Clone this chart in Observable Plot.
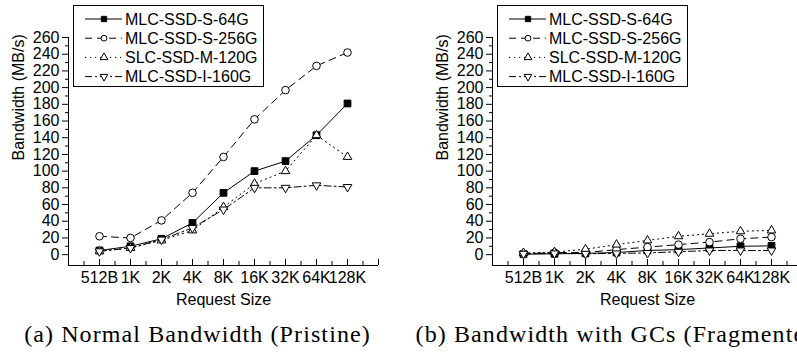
<!DOCTYPE html>
<html><head><meta charset="utf-8">
<script src="https://cdn.jsdelivr.net/npm/d3@7"></script>
<script src="https://cdn.jsdelivr.net/npm/@observablehq/plot@0.6"></script>
<style>
html,body{margin:0;padding:0;background:#fff;}
#wrap{position:relative;width:797px;height:354px;overflow:hidden;background:#fff;}
.panel{position:absolute;top:0;width:424px;height:354px;}
.panel svg{display:block;}
.caption{position:absolute;left:-30px;width:455px;top:320px;text-align:center;white-space:nowrap;font-family:"Liberation Serif",serif;font-size:24px;letter-spacing:1.1px;color:#000;line-height:28px;}
.legend{position:absolute;left:73px;top:5px;}
</style></head><body><div id="wrap"></div>
<script>
const sizes = ["512B","1K","2K","4K","8K","16K","32K","64K","128K"];
const seriesNames = ["MLC-SSD-S-64G","MLC-SSD-S-256G","SLC-SSD-M-120G","MLC-SSD-I-160G"];

// (a) Normal Bandwidth (Pristine)
const pristine64  = [5, 10, 19, 38, 74, 100, 112, 143, 181];
const pristine256 = [22, 20, 41, 74, 117, 162, 197, 226, 242];
const pristine120 = [4, 8, 17, 29, 57, 85, 100, 143, 117];
const pristine160 = [4, 8, 18, 32, 54, 80, 80, 83, 81];

// (b) Bandwidth with GCs (Fragmented)
const frag64  = [0.5, 1, 1.5, 2.5, 5, 6, 8, 10, 10.5];
const frag256 = [1, 2.5, 2.5, 6, 9, 12, 15, 19, 21];
const frag120 = [2, 3, 6.5, 12, 17, 22, 25, 28, 29];
const frag160 = [1, 1.5, 1, 1.5, 2, 3.5, 5, 5, 5];

const yTicks = d3.range(0, 261, 20);
const yMinorTicks = d3.range(10, 251, 20);
const captions = ["(a) Normal Bandwidth (Pristine)", "(b) Bandwidth with GCs (Fragmented)"];

const X_MIN = 0, X_MAX = 10, Y_MIN = -13, Y_MAX = 260;
const SANS = "'Liberation Sans', Arial, sans-serif";

const triangleDown = {
  draw(ctx, size) {
    const y = Math.sqrt(size / (Math.sqrt(3) * 3));
    ctx.moveTo(0, 2 * y);
    ctx.lineTo(-Math.sqrt(3) * y, -y);
    ctx.lineTo(Math.sqrt(3) * y, -y);
    ctx.closePath();
  }
};
const styles = [
  {dash: null, symbol: "square", fill: "black", r: 3.8, legendSym: d3.symbolSquare, legendSize: 28},
  {dash: "7,5", symbol: "circle", fill: "white", r: 3.8, legendSym: d3.symbolCircle, legendSize: 26},
  {dash: "1.2,3.8", symbol: "triangle", fill: "white", r: 3.2, legendSym: d3.symbolTriangle, legendSize: 26},
  {dash: "7,3,2,3", symbol: triangleDown, fill: "white", r: 3.2, legendSym: triangleDown, legendSize: 26}
];

function rowsFor(values) {
  return values.map((v, i) => ({size: sizes[i], x: i + 1, value: v}));
}

function makePanel(seriesValues, leftPx, caption) {
  const div = document.createElement("div");
  div.className = "panel";
  div.style.left = leftPx + "px";
  const marks = [
    Plot.ruleX([X_MIN], {stroke: "black", strokeWidth: 1}),
    Plot.ruleY([Y_MIN], {stroke: "black", strokeWidth: 1}),
    Plot.axisY(yTicks, {tickSize: 6, tickPadding: 3, label: null, stroke: "black", fill: "black"}),
    Plot.axisY(yMinorTicks, {tickSize: 3, fill: "none", label: null, stroke: "black"}),
    Plot.axisX(d3.range(X_MIN, X_MAX + 1, 1), {tickSize: 6, dy: -6, fill: "none", label: null, stroke: "black"}),
    Plot.axisX(d3.range(X_MIN + 0.5, X_MAX, 1), {tickSize: 4, dy: -4, fill: "none", label: null, stroke: "black"}),
    Plot.axisX(d3.range(1, sizes.length + 1), {tickSize: 0, tickPadding: 6, tickFormat: i => sizes[i - 1], label: null, fill: "black"}),
  ];
  seriesValues.forEach((vals, k) => {
    const st = styles[k];
    marks.push(Plot.line(rowsFor(vals), {x: "x", y: "value", stroke: "black", strokeWidth: 1, strokeDasharray: st.dash}));
  });
  seriesValues.forEach((vals, k) => {
    const st = styles[k];
    marks.push(Plot.dot(rowsFor(vals), {x: "x", y: "value", symbol: st.symbol, r: st.r, fill: st.fill, stroke: "black", strokeWidth: 1}));
  });
  marks.push(Plot.text(["Request Size"], {text: d => d, frameAnchor: "bottom", dy: 39, fill: "black"}));
  marks.push(Plot.text(["Bandwidth (MB/s)"], {text: d => d, frameAnchor: "left", rotate: -90, dx: -50, dy: 9, fill: "black"}));

  const svg = Plot.plot({
    width: 424, height: 320,
    marginLeft: 68, marginRight: 46, marginTop: 37, marginBottom: 55,
    x: {domain: [X_MIN, X_MAX]},
    y: {domain: [Y_MIN, Y_MAX]},
    style: {fontFamily: SANS, fontSize: "16px", color: "black", background: "white", overflow: "visible"},
    marks
  });
  div.appendChild(svg);

  // legend
  const lg = d3.create("svg").attr("class", "legend").attr("width", 192).attr("height", 83);
  lg.append("rect").attr("x", 0.5).attr("y", 0.5).attr("width", 190).attr("height", 81)
    .attr("fill", "white").attr("stroke", "black").attr("stroke-width", 1);
  seriesNames.forEach((name, i) => {
    const st = styles[i];
    const cy = 14 + 19.2 * i;
    lg.append("line").attr("x1", 12).attr("x2", 49).attr("y1", cy).attr("y2", cy)
      .attr("stroke", "black").attr("stroke-width", 1).attr("stroke-dasharray", st.dash);
    lg.append("path").attr("d", d3.symbol(st.legendSym, st.legendSize)())
      .attr("transform", `translate(31,${cy})`).attr("fill", st.fill).attr("stroke", "black").attr("stroke-width", 1);
    lg.append("text").attr("x", 52).attr("y", cy).attr("dy", "0.35em")
      .attr("font-family", SANS).attr("font-size", 16).attr("fill", "black").text(name);
  });
  div.appendChild(lg.node());

  const cap = document.createElement("div");
  cap.className = "caption";
  cap.textContent = caption;
  div.appendChild(cap);
  document.getElementById("wrap").appendChild(div);
}

makePanel([pristine64, pristine256, pristine120, pristine160], 0, captions[0]);
makePanel([frag64, frag256, frag120, frag160], 424, captions[1]);
</script>
</body></html>
